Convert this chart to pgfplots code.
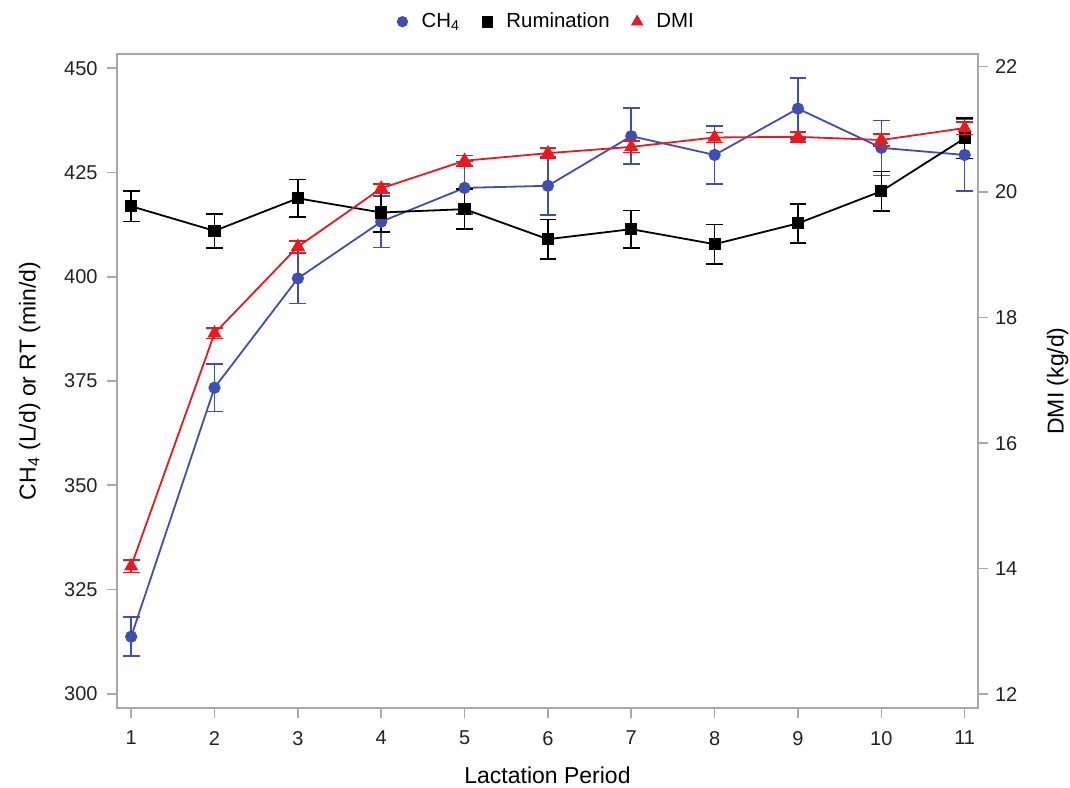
\documentclass[border=0pt]{standalone}
\usepackage{pgfplots}
\pgfplotsset{compat=1.18}
\usepackage{fontspec}
\setmainfont{Liberation Sans}
\definecolor{chblue}{HTML}{3F4FB0}
\definecolor{dmired}{HTML}{E8191F}
\definecolor{axgray}{HTML}{A8A8A8}
\definecolor{txt}{HTML}{222222}

\begin{document}
\begin{tikzpicture}
\pgfplotsset{
 every axis/.append style={
   scale only axis, width=430.5pt, height=327pt,
   xmin=0.83, xmax=11.16,
   font=\fontsize{10}{12}\selectfont,
   /pgf/number format/assume math mode=true,
   tick align=outside, major tick length=5pt,
   tick style={axgray, line width=0.8pt},
   axis line style={axgray, line width=0.8pt},
   ticklabel style={text=txt, font=\fontsize{10}{12}\selectfont},
   label style={text=black, font=\fontsize{11.5}{13}\selectfont},
 },
 eb/.style={error bars/.cd, y dir=both, y explicit,
   error bar style={line width=0.8pt},
   error mark options={rotate=90, mark size=4.2pt, line width=0.8pt}},
 lg/.style={legend image code/.code={\path[draw=none,fill=none] (-2.6pt,0pt) -- (7.6pt,0pt); \draw[##1] plot coordinates {(0pt,0pt)};}},
}
\begin{axis}[name=L,
  ymin=296.6, ymax=453.4,
  ytick={300,325,...,450}, xtick={1,...,11},
  xtick pos=bottom, ytick pos=left,
  xticklabel style={yshift=-3pt},
  yticklabel style={xshift=-1.2pt},
  xlabel={Lactation Period},
  ylabel={CH\textsubscript{4} (L/d) or RT (min/d)},
  xlabel style={yshift=-4pt},
  ylabel style={yshift=5pt},
  legend style={at={(0.5,1)}, anchor=south, yshift=7.5pt, draw=none, fill=none,
    font=\fontsize{10.2}{12}\selectfont, legend columns=3,
    /tikz/every even column/.append style={column sep=9pt}},
  legend cell align=left,
]
\addplot[forget plot, chblue, line width=0.9pt, mark=*, mark size=2.6pt, eb]
 coordinates {
 (1,313.7) +- (0,4.7)
 (2,373.4) +- (0,5.7)
 (3,399.6) +- (0,6.0)
 (4,413.2) +- (0,6.2)
 (5,421.3) +- (0,6.3)
 (6,421.8) +- (0,7.0)
 (7,433.7) +- (0,6.7)
 (8,429.2) +- (0,7.0)
 (9,440.3) +- (0,7.3)
 (10,430.9) +- (0,6.6)
 (11,429.2) +- (0,8.6)
 };
\addplot[forget plot, black, line width=0.9pt, mark=square*, mark size=2.6pt, eb]
 coordinates {
 (1,416.9) +- (0,3.7)
 (2,411.0) +- (0,4.1)
 (3,418.8) +- (0,4.5)
 (4,415.4) +- (0,4.7)
 (5,416.2) +- (0,4.8)
 (6,409.0) +- (0,4.7)
 (7,411.4) +- (0,4.5)
 (8,407.8) +- (0,4.7)
 (9,412.8) +- (0,4.7)
 (10,420.5) +- (0,4.7)
 (11,433.2) +- (0,4.9)
 };
\addlegendimage{only marks, mark=*, chblue, mark size=2.6pt, lg}
\addlegendentry{CH\textsubscript{4}}
\addlegendimage{only marks, mark=square*, black, mark size=2.6pt, lg}
\addlegendentry{Rumination}
\addlegendimage{only marks, mark=triangle*, dmired, mark size=3.2pt, lg}
\addlegendentry{DMI}
\end{axis}
\begin{axis}[name=R,
  ymin=11.78, ymax=22.2,
  ytick={12,14,...,22},
  axis x line=none, axis y line*=right,
  ylabel={DMI (kg/d)},
  ylabel style={yshift=-8pt},
]
\addplot[dmired, line width=0.9pt, mark=triangle*, mark size=3.2pt, eb]
 coordinates {
 (1,14.04) +- (0,0.10)
 (2,17.75) +- (0,0.08)
 (3,19.13) +- (0,0.09)
 (4,20.06) +- (0,0.07)
 (5,20.50) +- (0,0.08)
 (6,20.62) +- (0,0.08)
 (7,20.72) +- (0,0.09)
 (8,20.87) +- (0,0.08)
 (9,20.88) +- (0,0.08)
 (10,20.83) +- (0,0.10)
 (11,21.02) +- (0,0.10)
 };
\end{axis}
\pgfresetboundingbox
\path[use as bounding box] ([shift={(-58.5pt,-39.5pt)}]L.south west) rectangle ([shift={(46pt,27pt)}]L.north east);
\end{tikzpicture}
\end{document}
